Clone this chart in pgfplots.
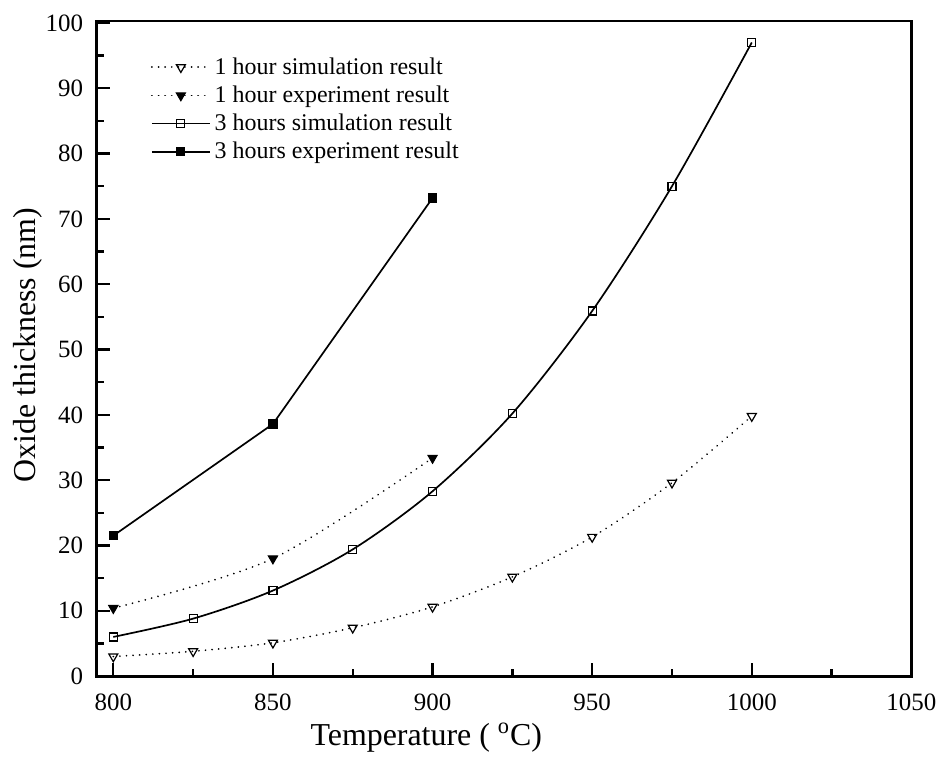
\documentclass[border=0pt]{standalone}
\usepackage{pgfplots}
\pgfplotsset{compat=1.18}
\usepackage{fontspec}
\setmainfont{Liberation Serif}
\begin{document}
\begin{tikzpicture}
\begin{axis}[
  scale only axis,
  width=408.5pt, height=328.5pt,
  clip=false,
  xmin=794.8, xmax=1050, ymin=0, ymax=100.3,
  xtick={800,850,900,950,1000,1050},
  minor xtick={825,875,925,975,1025},
  ytick={0,10,...,100},
  minor ytick={5,15,...,95},
  tick pos=left, tick align=inside,
  major tick length=6.5pt, minor tick length=3.5pt,
  axis line style={line width=1.4pt},
  every tick/.style={line width=1.2pt, black},
  /pgf/number format/assume math mode=true,
  /pgf/number format/1000 sep={},
  tick label style={font=\fontsize{12.5}{14}\selectfont},
  xticklabel style={yshift=-5.3pt},
  yticklabel style={xshift=-3.3pt},
  xlabel={Temperature ( \textsuperscript{o}C)},
  ylabel={Oxide thickness (nm)},
  label style={font=\fontsize{16}{19}\selectfont},
  xlabel style={at={(axis description cs:0.4045,-0.1065)}, anchor=base},
  ylabel style={at={(axis description cs:-0.0845,0.505)}, anchor=center},
  legend style={at={(axis description cs:0.0588,0.957)}, anchor=north west, draw=none, fill=none,
    font=\fontsize{12}{14}\selectfont, row sep=0.3pt},
  legend cell align=left,
  legend image code/.code={\draw[mark repeat=2,mark phase=2,#1] plot coordinates {(0pt,0pt) (14.5pt,0pt) (29pt,0pt)};},
  every axis plot/.append style={black, line width=0.85pt},
  dotstyle/.style={line cap=round, dash pattern=on 0.01pt off 3.3pt, line width=0.95pt},
]
\addplot[dotstyle, smooth, mark=triangle, mark size=2.6pt, mark options={solid, rotate=180, fill=white, line width=0.6pt}]
  coordinates {(800,3.0) (825,3.8) (850,5.1) (875,7.4) (900,10.6) (925,15.2) (950,21.3) (975,29.6) (1000,39.8)};
\addlegendentry{1 hour simulation result}
\addplot[dotstyle, smooth, mark=triangle*, mark size=2.6pt, mark options={solid, rotate=180, fill=black, line width=0.6pt}]
  coordinates {(800,10.4) (850,18.0) (900,33.4)};
\addlegendentry{1 hour experiment result}
\addplot[solid, smooth, mark=square, mark size=2pt, mark options={solid, fill=white, line width=0.6pt}]
  coordinates {(800,6.0) (825,8.8) (850,13.1) (875,19.4) (900,28.3) (925,40.2) (950,55.9) (975,75.0) (1000,97.0)};
\addlegendentry{3 hours simulation result}
\addplot[solid, mark=square*, mark size=2pt, mark options={solid, fill=black, line width=0.6pt}]
  coordinates {(800,21.5) (850,38.6) (900,73.2)};
\addlegendentry{3 hours experiment result}
\path (axis description cs:-0.1187,-0.1294) rectangle (axis description cs:1.0355,1.032);
\end{axis}
\end{tikzpicture}
\end{document}
